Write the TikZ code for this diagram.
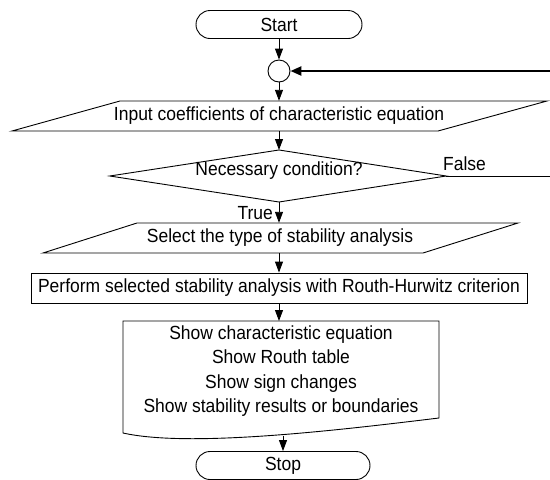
\documentclass[tikz,border=0pt]{standalone}
\usepackage{fontspec}
\setmainfont[FakeStretch=0.92]{Liberation Sans}
\usetikzlibrary{arrows.meta,shapes.misc,calc}
\begin{document}
\begin{tikzpicture}[x=1pt,y=-1pt,
  font=\fontsize{19}{24.5}\selectfont,
  shp/.style={draw=black, line width=0.9pt},
  lbl/.style={inner sep=0pt, minimum width=0pt},
  term/.style={rounded rectangle, draw=black, line width=0.9pt, minimum height=28pt, inner sep=0pt},
  flow/.style={line width=0.9pt, -{Triangle[length=11pt,width=8pt]}},
  back/.style={line width=2.3pt, -{Triangle[length=11pt,width=9pt]}},
  plain/.style={line width=0.9pt}]
\useasboundingbox (0,0) rectangle (550,480);
% Start
\node[term, minimum width=166pt] (start) at (279,24.5) {Start};
% connector circle
\node[circle, draw=black, line width=0.9pt, minimum size=22pt, inner sep=0pt] (join) at (279,71) {};
% Input parallelogram
\node[lbl, minimum height=30pt] (input) at (279,116) {Input coefficients of characteristic equation};
\draw[shp] (120,101) -- (547,101) -- (438,131) -- (12,131) -- cycle;
% Decision diamond
\node[lbl, minimum height=52pt, minimum width=336pt] (dec) at (278,176) {};
\draw[shp] (dec.west) -- (279,150) -- (dec.east) -- (279,202) -- cycle;
\node[lbl] (dectxt) at (279,171) {Necessary condition?};
\node[lbl, anchor=base west] (falselbl) at (443,170) {False};
\node[lbl, anchor=base east] (truelbl) at (273,219) {True};
% Select parallelogram
\node[lbl, minimum height=30pt] (select) at (280,238) {Select the type of stability analysis};
\draw[shp] (137,223) -- (518,223) -- (423,253) -- (43,253) -- cycle;
% Perform box
\node[draw=black, line width=0.9pt, minimum width=496pt, minimum height=30pt, inner sep=0pt] (perform) at (279,288) {Perform selected stability analysis with Routh-Hurwitz criterion};
% Document shape
\node[lbl, minimum width=316pt, minimum height=112pt, align=center] (doc) at (281,371) {Show characteristic equation\\Show Routh table\\Show sign changes\\Show stability results or boundaries};
\draw[shp] (123,321) -- (439,321) -- (439,418) .. controls (340,430) and (190,448) .. (123,433) -- cycle;
\coordinate (docb) at (283,435.5);
% Stop
\node[term, minimum width=174pt] (stop) at (283,465.5) {Stop};
% connectors
\coordinate (fbstart) at (550,71);
\coordinate (fend) at (550,176);
\draw[flow] (start.south) -- (join.north);
\draw[flow] (join.south) -- (input.north);
\draw[flow] (input.south) -- (279,150);
\draw[flow] (279,202) -- (select.north -| 279,0);
\draw[flow] (select.south -| 279,0) -- (perform.north);
\draw[flow] (perform.south) -- (279,321);
\draw[flow] (docb) -- (stop.north);
\draw[back] (fbstart) -- (join.east);
\draw[plain] (dec.east) -- (fend);
\end{tikzpicture}
\end{document}
